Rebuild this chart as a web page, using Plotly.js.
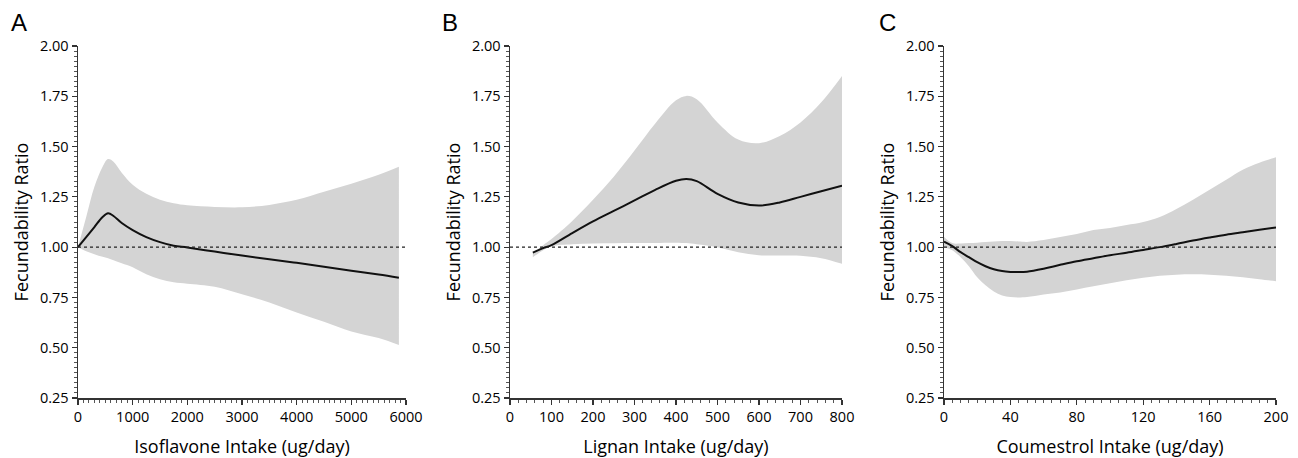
<!DOCTYPE html>
<html>
<head>
<meta charset="utf-8">
<script src="https://cdn.plot.ly/plotly-3.0.1.min.js"></script>
<style>html,body{margin:0;padding:0;background:#fff;}#chart{width:1298px;height:458px;}</style>
</head>
<body>
<div id="chart"></div>
<script>
// Panel A: isoflavone
const isoX     = [0, 150, 300, 450, 550, 650, 800, 1000, 1250, 1500, 1750, 2000, 2500, 3000, 3500, 4000, 4500, 5000, 5500, 5870];
const isoFR    = [1.0, 1.05, 1.10, 1.15, 1.168, 1.155, 1.12, 1.085, 1.05, 1.025, 1.007, 0.998, 0.978, 0.958, 0.94, 0.922, 0.903, 0.883, 0.864, 0.848];
const isoUpper = [1.0, 1.15, 1.30, 1.40, 1.438, 1.425, 1.37, 1.31, 1.265, 1.235, 1.218, 1.208, 1.200, 1.198, 1.21, 1.235, 1.275, 1.315, 1.36, 1.40];
const isoLower = [1.0, 0.98, 0.965, 0.952, 0.945, 0.935, 0.92, 0.90, 0.865, 0.84, 0.825, 0.818, 0.803, 0.766, 0.725, 0.675, 0.629, 0.581, 0.548, 0.513];

// Panel B: lignan
const ligX     = [55, 80, 100, 150, 200, 250, 300, 350, 400, 425, 450, 500, 550, 600, 650, 700, 750, 800];
const ligFR    = [0.973, 0.995, 1.01, 1.07, 1.128, 1.18, 1.232, 1.285, 1.33, 1.339, 1.328, 1.265, 1.222, 1.207, 1.222, 1.25, 1.278, 1.306];
const ligUpper = [0.97, 1.01, 1.04, 1.13, 1.235, 1.35, 1.48, 1.615, 1.73, 1.752, 1.735, 1.62, 1.535, 1.517, 1.553, 1.62, 1.72, 1.851];
const ligLower = [0.95, 0.985, 1.005, 1.015, 1.018, 1.019, 1.02, 1.021, 1.022, 1.02, 1.015, 1.0, 0.975, 0.96, 0.958, 0.957, 0.945, 0.917];

// Panel C: coumestrol
const couX     = [0, 5, 10, 15, 20, 25, 30, 35, 40, 45, 50, 60, 70, 80, 90, 100, 110, 120, 130, 140, 150, 160, 170, 180, 190, 200];
const couFR    = [1.027, 1.005, 0.975, 0.95, 0.925, 0.905, 0.89, 0.881, 0.877, 0.876, 0.878, 0.893, 0.912, 0.93, 0.945, 0.96, 0.972, 0.986, 1.0, 1.016, 1.033, 1.048, 1.062, 1.074, 1.086, 1.098];
const couUpper = [1.05, 1.02, 1.018, 1.02, 1.022, 1.025, 1.028, 1.03, 1.03, 1.028, 1.026, 1.035, 1.05, 1.065, 1.085, 1.095, 1.11, 1.125, 1.15, 1.19, 1.235, 1.285, 1.335, 1.385, 1.42, 1.447];
const couLower = [1.0, 0.985, 0.95, 0.905, 0.85, 0.81, 0.78, 0.76, 0.752, 0.75, 0.752, 0.765, 0.775, 0.79, 0.805, 0.82, 0.835, 0.848, 0.858, 0.863, 0.865, 0.863, 0.858, 0.85, 0.84, 0.83];

const refValue = 1.0;
const panelLetters = ['A', 'B', 'C'];
const xTitles = ['Isoflavone Intake (ug/day)', 'Lignan Intake (ug/day)', 'Coumestrol Intake (ug/day)'];
const yTitle = 'Fecundability Ratio';
const xRanges = [[0, 6000], [0, 800], [0, 200]];
const xDticks = [1000, 100, 40];
const xMinor = [100, 20, 5];

const panels = [
  {x: isoX, fr: isoFR, up: isoUpper, lo: isoLower},
  {x: ligX, fr: ligFR, up: ligUpper, lo: ligLower},
  {x: couX, fr: couFR, up: couUpper, lo: couLower}
];

const bandColor = '#d4d4d4';
const traces = [];
panels.forEach((p, i) => {
  const xa = i === 0 ? 'x' : 'x' + (i + 1);
  const ya = i === 0 ? 'y' : 'y' + (i + 1);
  traces.push({x: p.x, y: p.lo, xaxis: xa, yaxis: ya, mode: 'lines', line: {width: 0, color: bandColor, shape: 'spline'}, hoverinfo: 'skip', showlegend: false});
  traces.push({x: p.x, y: p.up, xaxis: xa, yaxis: ya, mode: 'lines', fill: 'tonexty', fillcolor: bandColor, line: {width: 0, color: bandColor, shape: 'spline'}, hoverinfo: 'skip', showlegend: false});
  traces.push({x: p.x, y: p.fr, xaxis: xa, yaxis: ya, mode: 'lines', line: {width: 2, color: '#111', shape: 'spline'}, showlegend: false});
});

const W = 1298, H = 458;
const mL = 78, mR = 22, mT = 46, mB = 60;
const pw = W - mL - mR;
const domPx = [[78, 406], [510, 842], [944, 1276]];
const tickFont = {family: 'Open Sans, sans-serif', size: 14.5, color: '#000'};
const titleFont = {family: 'Open Sans, sans-serif', size: 18, color: '#000'};

const layout = {
  width: W, height: H,
  margin: {l: mL, r: mR, t: mT, b: mB},
  paper_bgcolor: '#fff', plot_bgcolor: '#fff',
  showlegend: false,
  shapes: [], annotations: []
};

const letterX = [19, 450, 887];
panels.forEach((p, i) => {
  const sfx = i === 0 ? '' : String(i + 1);
  const d0 = (domPx[i][0] - mL) / pw, d1 = (domPx[i][1] - mL) / pw;
  layout['xaxis' + sfx] = {
    domain: [d0, d1], range: xRanges[i], dtick: xDticks[i], tick0: 0,
    showgrid: false, zeroline: false, showline: true, linecolor: '#333', linewidth: 1.5,
    ticks: 'outside', ticklen: 5, tickwidth: 1.2, tickcolor: '#333',
    minor: {dtick: xMinor[i], ticks: 'outside', ticklen: 3, tickwidth: 1, tickcolor: '#555', showgrid: false},
    tickfont: tickFont, anchor: 'y' + sfx,
    title: {text: xTitles[i], font: titleFont, standoff: 15}
  };
  layout['yaxis' + sfx] = {
    domain: [0, 1], range: [0.25, 2.0], dtick: 0.25, tick0: 0.25, tickformat: '.2f',
    showgrid: false, zeroline: false, showline: true, linecolor: '#333', linewidth: 1.5,
    ticks: 'outside', ticklen: 5, tickwidth: 1.2, tickcolor: '#333',
    minor: {dtick: 0.025, ticks: 'outside', ticklen: 3, tickwidth: 1, tickcolor: '#555', showgrid: false},
    tickfont: tickFont, anchor: 'x' + sfx,
    title: {text: yTitle, font: titleFont, standoff: 6}
  };
  layout.shapes.push({type: 'line', xref: 'x' + sfx + ' domain', yref: 'y' + sfx, x0: 0, x1: 1, y0: refValue, y1: refValue,
    line: {color: '#222', width: 1.3, dash: 'dot'}, layer: 'above'});
  layout.annotations.push({text: panelLetters[i], xref: 'paper', yref: 'paper',
    x: (letterX[i] - mL) / pw, y: (H - mB - 22) / (H - mT - mB), xanchor: 'center', yanchor: 'middle',
    showarrow: false, font: {family: 'Liberation Sans, Arial, sans-serif', size: 24, color: '#000'}});
});

Plotly.newPlot('chart', traces, layout, {displayModeBar: false, staticPlot: true});
</script>
</body>
</html>
